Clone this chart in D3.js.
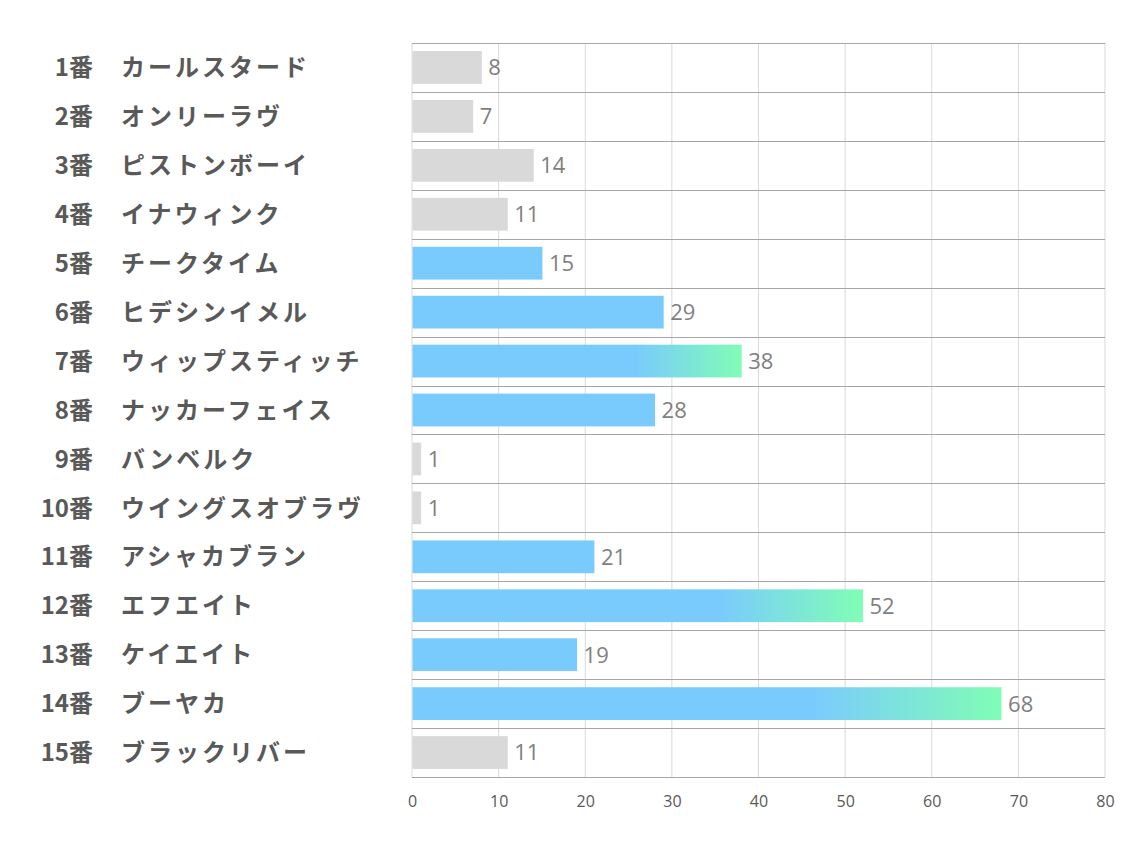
<!DOCTYPE html>
<html>
<head>
<meta charset="utf-8">
<script src="https://cdn.jsdelivr.net/npm/d3@7"></script>
<style>
  body { margin: 0; background: #fff; }
  svg { display: block; }
</style>
</head>
<body>
<div id="chart"></div>
<script>
const numbers = ["1番","2番","3番","4番","5番","6番","7番","8番","9番","10番","11番","12番","13番","14番","15番"];
const names = ["カールスタード","オンリーラヴ","ピストンボーイ","イナウィンク","チークタイム","ヒデシンイメル","ウィップスティッチ","ナッカーフェイス","バンベルク","ウイングスオブラヴ","アシャカブラン","エフエイト","ケイエイト","ブーヤカ","ブラックリバー"];
const values = [8, 7, 14, 11, 15, 29, 38, 28, 1, 1, 21, 52, 19, 68, 11];
// g = gray, b = blue, grad = blue→green
const kinds = ["g","g","g","g","b","b","grad","b","g","g","b","grad","b","grad","g"];
const xTicks = [0, 10, 20, 30, 40, 50, 60, 70, 80];

const width = 1134, height = 850;
const margin = {top: 43, right: 29, bottom: 73, left: 412};

const svg = d3.select("#chart").append("svg")
    .attr("width", width)
    .attr("height", height);

const defs = svg.append("defs");
const grad = defs.append("linearGradient")
    .attr("id", "barGrad")
    .attr("x1", "0").attr("x2", "1").attr("y1", "0").attr("y2", "0");
grad.append("stop").attr("offset", "0.68").attr("stop-color", "#7acbfd");
grad.append("stop").attr("offset", "1").attr("stop-color", "#80fdb6");

const x = d3.scaleLinear().domain([0, 80]).range([margin.left, width - margin.right]);
const y = d3.scaleBand().domain(d3.range(values.length))
    .range([margin.top, height - margin.bottom])
    .paddingInner(0.33).paddingOuter(0.165);

const rowH = (height - margin.bottom - margin.top) / values.length;

// vertical gridlines
svg.append("g").selectAll("line")
    .data(xTicks)
    .join("line")
    .attr("x1", d => x(d)).attr("x2", d => x(d))
    .attr("y1", margin.top).attr("y2", height - margin.bottom)
    .attr("stroke", "#d9d9d9").attr("stroke-width", 1);

// row separators
svg.append("g").selectAll("line")
    .data(d3.range(values.length + 1))
    .join("line")
    .attr("x1", margin.left).attr("x2", width - margin.right)
    .attr("y1", i => Math.round(margin.top + i * rowH) + 0.5)
    .attr("y2", i => Math.round(margin.top + i * rowH) + 0.5)
    .attr("stroke", "#a6a6a6").attr("stroke-width", 1);

const colorOf = k => k === "g" ? "#d9d9d9" : k === "b" ? "#7acbfd" : "url(#barGrad)";

svg.append("g").selectAll("rect")
    .data(values)
    .join("rect")
    .attr("x", x(0) + 0.5)
    .attr("y", (d, i) => y(i))
    .attr("width", d => x(d) - x(0))
    .attr("height", y.bandwidth())
    .attr("fill", (d, i) => colorOf(kinds[i]));

// value labels
svg.append("g").selectAll("text")
    .data(values)
    .join("text")
    .attr("x", d => x(d) + 7)
    .attr("y", (d, i) => y(i) + y.bandwidth() / 2)
    .attr("dy", "0.36em")
    .attr("font-family", "'Open Sans', 'Noto Sans', sans-serif")
    .attr("font-size", 22)
    .attr("fill", "#7f7f7f")
    .text(d => d);

// left labels
const labels = svg.append("g")
    .attr("font-family", "'Noto Sans CJK JP', sans-serif")
    .attr("font-weight", "bold")
    .attr("font-size", 24)
    .attr("fill", "#595959");
labels.selectAll("text.num")
    .data(numbers)
    .join("text")
    .attr("class", "num")
    .attr("x", 93)
    .attr("y", (d, i) => y(i) + y.bandwidth() / 2)
    .attr("dy", "0.36em")
    .attr("text-anchor", "end")
    .text(d => d);
labels.selectAll("text.name")
    .data(names)
    .join("text")
    .attr("class", "name")
    .attr("x", 121)
    .attr("y", (d, i) => y(i) + y.bandwidth() / 2)
    .attr("dy", "0.36em")
    .attr("letter-spacing", 3)
    .text(d => d);

// x axis tick labels
const xAxis = svg.append("g")
    .attr("transform", `translate(0,${height - margin.bottom})`)
    .call(d3.axisBottom(x).tickValues(xTicks).tickSize(0).tickPadding(19));
xAxis.select(".domain").remove();
xAxis.selectAll("text")
    .attr("font-family", "'Open Sans', 'Noto Sans', sans-serif")
    .attr("font-size", 16)
    .attr("fill", "#595959");
</script>
</body>
</html>
